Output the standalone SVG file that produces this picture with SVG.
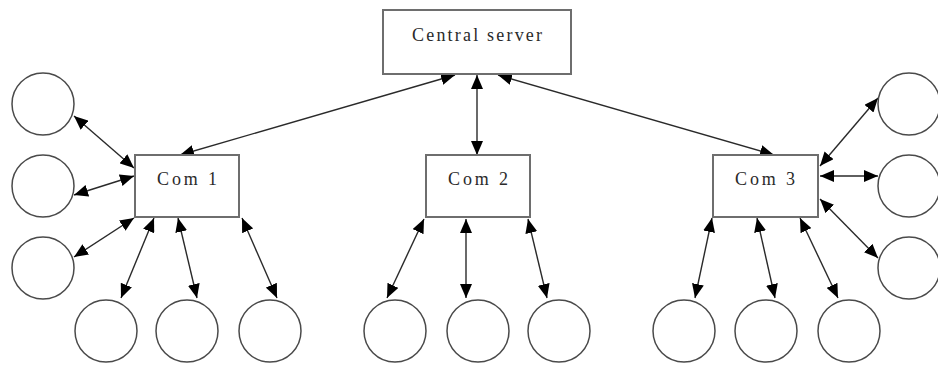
<svg xmlns="http://www.w3.org/2000/svg" width="938" height="365" viewBox="0 0 938 365">
  <style>
    .box { fill: #ffffff; stroke: #6e6e6e; stroke-width: 2; }
    .leaf { fill: #ffffff; stroke: #4a4a4a; stroke-width: 1.5; }
    .label { font-family: "Liberation Serif", "Times New Roman", serif; font-size: 18px; fill: #2a2a2a; text-anchor: middle; }
    .link { stroke: #2a2a2a; stroke-width: 1.4; fill: none; marker-start: url(#head); marker-end: url(#head); }
  </style>
  <defs>
    <marker id="head" viewBox="0 0 14 12" refX="14" refY="6" markerWidth="14" markerHeight="12" markerUnits="userSpaceOnUse" orient="auto-start-reverse">
      <path d="M0,0 L14,6 L0,12 z" fill="#000000"/>
    </marker>
  </defs>
  <rect width="938" height="365" fill="#ffffff"/>

  <!-- connectors -->
  <g id="connectors">
    <line class="link" x1="455" y1="75" x2="180" y2="155"/>
    <line class="link" x1="477" y1="75" x2="477" y2="155"/>
    <line class="link" x1="498" y1="75" x2="774" y2="155"/>

    <line class="link" x1="134" y1="168" x2="74" y2="116"/>
    <line class="link" x1="134" y1="176" x2="74" y2="195"/>
    <line class="link" x1="134" y1="218" x2="74" y2="257"/>
    <line class="link" x1="154" y1="218" x2="121" y2="298"/>
    <line class="link" x1="178" y1="218" x2="197" y2="298"/>
    <line class="link" x1="242" y1="218" x2="277" y2="298"/>

    <line class="link" x1="424" y1="219" x2="387" y2="298"/>
    <line class="link" x1="466" y1="219" x2="466" y2="298"/>
    <line class="link" x1="528" y1="219" x2="547" y2="298"/>

    <line class="link" x1="712" y1="218" x2="695" y2="298"/>
    <line class="link" x1="757" y1="218" x2="775" y2="298"/>
    <line class="link" x1="800" y1="218" x2="838" y2="298"/>

    <line class="link" x1="820" y1="166" x2="878" y2="98"/>
    <line class="link" x1="820" y1="176" x2="878" y2="176"/>
    <line class="link" x1="820" y1="199" x2="878" y2="258"/>
  </g>

  <!-- central node -->
  <g id="central-server">
    <rect class="box" x="383" y="10" width="188" height="64"/>
    <text class="label" x="477" y="41" textLength="130" lengthAdjust="spacing">Central server</text>
  </g>

  <!-- hubs -->
  <g id="com1">
    <rect class="box" x="135" y="155" width="104" height="62"/>
    <text class="label" x="187" y="185" textLength="60" lengthAdjust="spacing">Com 1</text>
  </g>
  <g id="com2">
    <rect class="box" x="426" y="155" width="104" height="62"/>
    <text class="label" x="478" y="185" textLength="60" lengthAdjust="spacing">Com 2</text>
  </g>
  <g id="com3">
    <rect class="box" x="713" y="155" width="105" height="62"/>
    <text class="label" x="765" y="185" textLength="60" lengthAdjust="spacing">Com 3</text>
  </g>

  <!-- leaf nodes around Com 1 -->
  <g id="c1-left-1"><circle class="leaf" cx="43" cy="104" r="31"/></g>
  <g id="c1-left-2"><circle class="leaf" cx="43" cy="186" r="31"/></g>
  <g id="c1-left-3"><circle class="leaf" cx="43" cy="268" r="31"/></g>
  <g id="c1-bottom-1"><circle class="leaf" cx="106" cy="331" r="31"/></g>
  <g id="c1-bottom-2"><circle class="leaf" cx="187" cy="331" r="31"/></g>
  <g id="c1-bottom-3"><circle class="leaf" cx="270" cy="331" r="31"/></g>

  <!-- leaf nodes under Com 2 -->
  <g id="c2-bottom-1"><circle class="leaf" cx="395" cy="331" r="31"/></g>
  <g id="c2-bottom-2"><circle class="leaf" cx="478" cy="331" r="31"/></g>
  <g id="c2-bottom-3"><circle class="leaf" cx="559" cy="331" r="31"/></g>

  <!-- leaf nodes around Com 3 -->
  <g id="c3-bottom-1"><circle class="leaf" cx="684" cy="331" r="31"/></g>
  <g id="c3-bottom-2"><circle class="leaf" cx="766" cy="331" r="31"/></g>
  <g id="c3-bottom-3"><circle class="leaf" cx="849" cy="331" r="31"/></g>
  <g id="c3-right-1"><circle class="leaf" cx="909" cy="104" r="31"/></g>
  <g id="c3-right-2"><circle class="leaf" cx="909" cy="186" r="31"/></g>
  <g id="c3-right-3"><circle class="leaf" cx="909" cy="268" r="31"/></g>
</svg>
